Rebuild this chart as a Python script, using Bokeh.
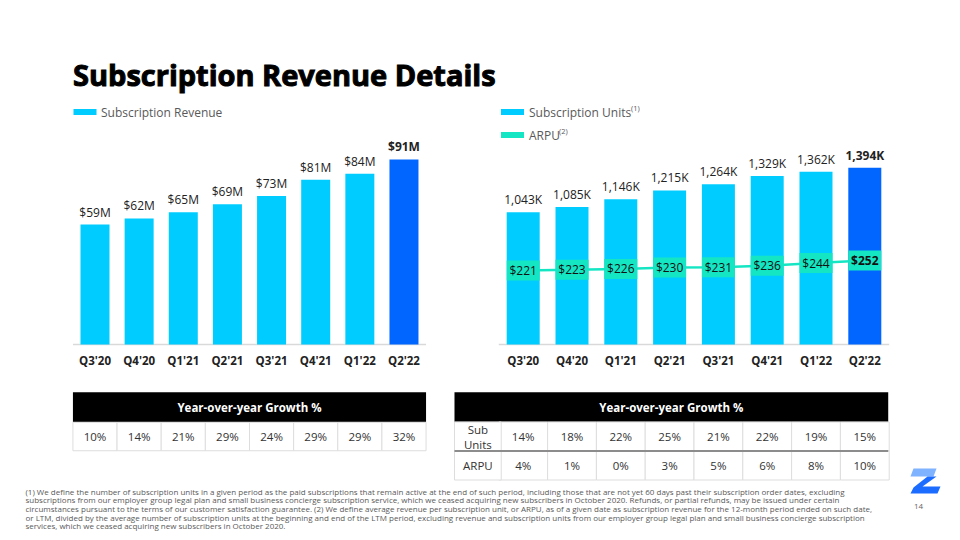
from bokeh.plotting import figure
from bokeh.models import Range1d
from bokeh.core.properties import value
from bokeh.embed import file_html
from bokeh.resources import INLINE

# ---------------- data ----------------
quarters = ["Q3'20", "Q4'20", "Q1'21", "Q2'21", "Q3'21", "Q4'21", "Q1'22", "Q2'22"]
revenue = [59, 62, 65, 69, 73, 81, 84, 91]            # $M
units = [1043, 1085, 1146, 1215, 1264, 1329, 1362, 1394]  # K
arpu = [221, 223, 226, 230, 231, 236, 244, 252]       # $
rev_growth = [10, 14, 21, 29, 24, 29, 29, 32]         # %
units_growth = [14, 18, 22, 25, 21, 22, 19, 15]       # %
arpu_growth = [4, 1, 0, 3, 5, 6, 8, 10]               # %

title_text = "Subscription Revenue Details"
legend_rev = "Subscription Revenue"
legend_units = "Subscription Units"
legend_arpu = "ARPU"
table_header = "Year-over-year Growth %"
row_labels = ["Sub\nUnits", "ARPU"]
footnote_lines = [
    "(1) We define the number of subscription units in a given period as the paid subscriptions that remain active at the end of such period, including those that are not yet 60 days past their subscription order dates, excluding",
    "subscriptions from our employer group legal plan and small business concierge subscription service, which we ceased acquiring new subscribers in October 2020.  Refunds, or partial refunds, may be issued under certain",
    "circumstances pursuant to the terms of our customer satisfaction guarantee. (2) We define average revenue per subscription unit, or ARPU, as of a given date as subscription revenue for the 12-month period ended on such date,",
    "or LTM, divided by the average number of subscription units at the beginning and end of the LTM period, excluding revenue and subscription units from our employer group legal plan and small business concierge subscription",
    "services, which we ceased acquiring new subscribers in October 2020.",
]
page_number = "14"

# ---------------- styles ----------------
FONT = value("Open Sans")
CYAN = "#00CCFF"
BLUE = "#0066FF"
TEAL = "#14E6C3"
DARK = "#222222"
GRAY_TXT = "#595959"

W, H = 952, 532
X_MIN, X_MAX = 0, W
Y_BOT, Y_TOP = H, 0

p = figure(width=W, height=H, output_backend="svg", toolbar_location=None,
           x_range=Range1d(X_MIN, X_MAX), y_range=Range1d(Y_BOT, Y_TOP),
           min_border=0, outline_line_color=None, background_fill_color="white",
           border_fill_color="white")
p.axis.visible = False
p.grid.visible = False


def xrange_for(x0, step):
    return Range1d((X_MIN - x0) / step, (X_MAX - x0) / step)


def yrange_for(base, k, v0=0.0):
    return Range1d(v0 + (base - Y_BOT) / k, v0 + (base - Y_TOP) / k)


# chart scales (layout: pixel placement of each panel)
p.extra_x_ranges = {
    "rx": xrange_for(94.5, 44.14),
    "ux": xrange_for(522.7, 48.8),
}
p.extra_y_ranges = {
    "ry": yrange_for(344, 2.033),
    "uy": yrange_for(344, 0.1268),
    "ay": yrange_for(270, 0.323, 221),
}

idx = list(range(len(quarters)))
bar_colors = [CYAN] * (len(quarters) - 1) + [BLUE]
label_styles = ["normal"] * (len(quarters) - 1) + ["bold"]

# ---------------- title ----------------
p.text(x=[72.5], y=[74], text=[title_text], text_font=FONT, text_font_size="29px",
       text_font_style="bold", text_color="black", text_baseline="alphabetic",
       text_outline_color="black")

# ---------------- legends ----------------
p.rect(x=[84.5, 512, 512], y=[111.5, 111.5, 134.5], width=23, height=6,
       fill_color=[CYAN, CYAN, TEAL], line_color=None)
p.text(x=[100.5, 528.5, 528.5], y=[111.5, 111.5, 134.5],
       text=[legend_rev, legend_units, legend_arpu], text_font=FONT,
       text_font_size="12px", text_color=GRAY_TXT, text_baseline="middle")
p.text(x=[630.5, 558.5], y=[107, 130], text=["(1)", "(2)"], text_font=FONT,
       text_font_size="7.5px", text_color=GRAY_TXT, text_baseline="middle")

# ---------------- left chart: revenue ----------------
p.segment(x0=[-0.5], x1=[7.5], y0=[0], y1=[0], x_range_name="rx", y_range_name="ry",
          line_color="#D9D9D9", line_width=1.5)
p.vbar(x=idx, top=revenue, width=0.657, bottom=0, fill_color=bar_colors,
       line_color=None, x_range_name="rx", y_range_name="ry")
p.text(x=idx, y=revenue, text=[f"${v}M" for v in revenue], text_font=FONT,
       text_font_size="12px", text_font_style=label_styles, text_color=DARK,
       text_align="center", text_baseline="bottom", y_offset=-4,
       x_range_name="rx", y_range_name="ry")
p.text(x=idx, y=[360] * len(idx), text=quarters, text_font=FONT,
       text_font_size="11.5px", text_font_style="bold", text_color=DARK,
       text_align="center", text_baseline="middle", x_range_name="rx")

# ---------------- right chart: units + ARPU ----------------
p.segment(x0=[-0.5], x1=[7.5], y0=[0], y1=[0], x_range_name="ux", y_range_name="uy",
          line_color="#D9D9D9", line_width=1.5)
p.vbar(x=idx, top=units, width=0.676, bottom=0, fill_color=bar_colors,
       line_color=None, x_range_name="ux", y_range_name="uy")
p.text(x=idx, y=units, text=[f"{v:,}K" for v in units], text_font=FONT,
       text_font_size="12px", text_font_style=label_styles, text_color=DARK,
       text_align="center", text_baseline="bottom", y_offset=-4,
       x_range_name="ux", y_range_name="uy")
p.line(x=idx, y=arpu, line_color=TEAL, line_width=2.5,
       x_range_name="ux", y_range_name="ay")
p.rect(x=idx, y=arpu, width=0.676, height=20, height_units="screen",
       fill_color=TEAL, line_color=None, x_range_name="ux", y_range_name="ay")
p.text(x=idx, y=arpu, text=[f"${v}" for v in arpu], text_font=FONT,
       text_font_size="12px", text_font_style=label_styles, text_color="#111111",
       text_align="center", text_baseline="middle",
       x_range_name="ux", y_range_name="ay")
p.text(x=idx, y=[360] * len(idx), text=quarters, text_font=FONT,
       text_font_size="11.5px", text_font_style="bold", text_color=DARK,
       text_align="center", text_baseline="middle", x_range_name="ux")

# ---------------- left table ----------------
p.rect(x=[3.5], y=[406.7], width=8, height=30, height_units="screen",
       fill_color="black", line_color=None, x_range_name="rx")
p.text(x=[3.5], y=[406.7], text=[table_header], text_font=FONT, text_font_size="11.5px",
       text_font_style="bold", text_color="white", text_align="center",
       text_baseline="middle", x_range_name="rx")
p.rect(x=idx, y=[436] * 8, width=1, height=28.5, height_units="screen",
       fill_color="white", line_color="#DDDDDD", line_width=1, x_range_name="rx")
p.text(x=idx, y=[436] * 8, text=[f"{v}%" for v in rev_growth], text_font=FONT,
       text_font_size="11.5px", text_color="#333333", text_align="center",
       text_baseline="middle", x_range_name="rx")

# ---------------- right table ----------------
lab_l, lab_r = -1.408, -0.45
p.rect(x=[(lab_l + 7.48) / 2], y=[406.5], width=7.48 - lab_l, height=29.5,
       height_units="screen", fill_color="black", line_color=None, x_range_name="ux")
p.text(x=[(lab_l + 7.48) / 2], y=[406.5], text=[table_header], text_font=FONT,
       text_font_size="11.5px", text_font_style="bold", text_color="white",
       text_align="center", text_baseline="middle", x_range_name="ux")
for row_y, vals in ((436, units_growth), (465, arpu_growth)):
    p.rect(x=idx, y=[row_y] * 8, width=1, height=29, height_units="screen",
           fill_color="white", line_color="#DDDDDD", line_width=1, x_range_name="ux")
    p.text(x=idx, y=[row_y] * 8, text=[f"{v}%" for v in vals], text_font=FONT,
           text_font_size="11.5px", text_color="#333333", text_align="center",
           text_baseline="middle", x_range_name="ux")
p.rect(x=[(lab_l + lab_r) / 2] * 2, y=[436, 465], width=lab_r - lab_l, height=29,
       height_units="screen", fill_color="white", line_color="#DDDDDD",
       x_range_name="ux")
p.text(x=[(lab_l + lab_r) / 2] * 2, y=[436, 465], text=row_labels, text_font=FONT,
       text_font_size="11.5px", text_color="#333333", text_align="center",
       text_baseline="middle", text_line_height=1.0, x_range_name="ux")
p.segment(x0=[lab_l], x1=[7.48], y0=[450.6], y1=[450.6], line_color="#8C8C8C",
          line_width=2, x_range_name="ux")

# ---------------- footnote ----------------
p.text(x=[25] * len(footnote_lines),
       y=[490.7 + 8.65 * i for i in range(len(footnote_lines))],
       text=footnote_lines, text_font=FONT, text_font_size="8px",
       text_color=GRAY_TXT, text_baseline="middle")

# ---------------- logo & page number ----------------
p.patch(x=[913, 936, 933, 910], y=[468, 468, 476, 476], fill_color="#7FB2FF",
        line_color=None)
p.patch(x=[926, 936, 922, 940, 937, 910, 913, 927],
        y=[476, 476, 486, 486, 493, 493, 487, 476], fill_color="#1C6DFF",
        line_color=None)
p.text(x=[918], y=[506], text=[page_number], text_font=FONT, text_font_size="8px",
       text_color="#666666", text_align="center", text_baseline="middle")

open("out.html", "w").write(file_html(p, INLINE))
